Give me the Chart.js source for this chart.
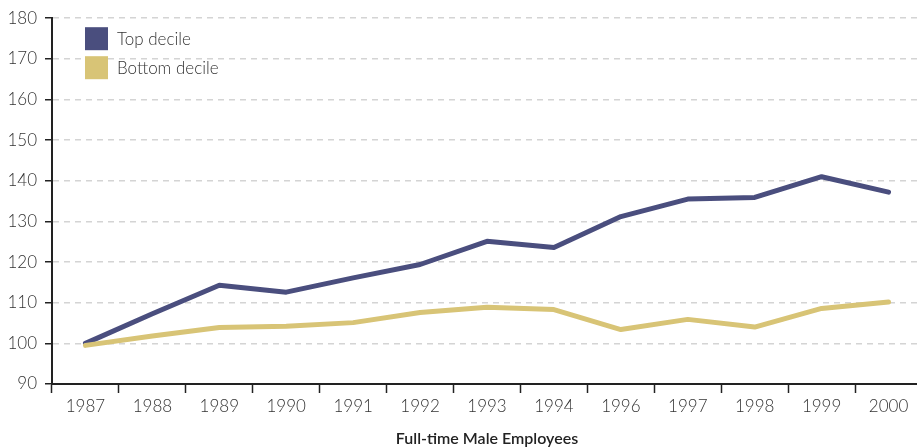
<!DOCTYPE html>
<html lang="en">
<head>
    <meta charset="UTF-8">
    <title>Full-time Male Employees</title>
    <script src="https://cdn.jsdelivr.net/npm/chart.js"></script>
    <style>
        html, body {
            margin: 0;
            padding: 0;
            background: #fff;
            overflow: hidden;
        }

        .chart-box {
            width: 922px;
            height: 448px;
        }
    </style>
</head>
<body>
    <div class="chart-box">
        <canvas id="myChart"></canvas>
    </div>

    <script>
        // data (index, 1987 = 100)
        const years = ['1987', '1988', '1989', '1990', '1991', '1992', '1993', '1994', '1996', '1997', '1998', '1999', '2000'];
        const topDecile = [100, 107.3, 114.3, 112.6, 116.1, 119.4, 125.1, 123.6, 131.2, 135.5, 135.9, 141.0, 137.2];
        const bottomDecile = [99.5, 101.8, 103.9, 104.2, 105.1, 107.6, 108.9, 108.3, 103.4, 105.9, 104.0, 108.6, 110.2];
        const seriesNames = ['Top decile', 'Bottom decile'];
        const seriesColors = ['#4a4e7e', '#d8c476'];
        const xTitle = 'Full-time Male Employees';

        const FONT = 'Lato, "Open Sans", sans-serif';
        const TEXT = '#333';

        // legend drawn inside the plot, top left
        const insideLegend = {
            id: 'insideLegend',
            afterDraw(chart) {
                const ctx = chart.ctx;
                const area = chart.chartArea;
                ctx.save();
                ctx.font = '300 17px ' + FONT;
                ctx.textBaseline = 'middle';
                chart.data.datasets.forEach(function (ds, i) {
                    const x = area.left + 33;
                    const y = area.top + 9 + i * 29;
                    ctx.fillStyle = ds.borderColor;
                    ctx.fillRect(x, y, 23, 23);
                    ctx.fillStyle = TEXT;
                    ctx.fillText(ds.label, x + 32, y + 12);
                });
                ctx.restore();
            }
        };

        const ctx = document.getElementById('myChart');
        const myChart = new Chart(ctx, {
            type: 'line',
            data: {
                labels: years,
                datasets: [{
                    label: seriesNames[0],
                    data: topDecile,
                    borderColor: seriesColors[0],
                    backgroundColor: seriesColors[0],
                    borderWidth: 5,
                    pointRadius: 0,
                    tension: 0,
                    borderCapStyle: 'round',
                    borderJoinStyle: 'round',
                    order: 1
                }, {
                    label: seriesNames[1],
                    data: bottomDecile,
                    borderColor: seriesColors[1],
                    backgroundColor: seriesColors[1],
                    borderWidth: 5,
                    pointRadius: 0,
                    tension: 0,
                    borderCapStyle: 'round',
                    borderJoinStyle: 'round',
                    order: 0
                }]
            },
            options: {
                responsive: true,
                maintainAspectRatio: false,
                animation: false,
                layout: {
                    padding: { top: 16, left: 0, right: 0, bottom: 0 }
                },
                plugins: {
                    legend: { display: false },
                    tooltip: { enabled: false }
                },
                scales: {
                    x: {
                        offset: true,
                        grid: {
                            offset: true,
                            drawOnChartArea: false,
                            drawTicks: true,
                            tickLength: 9,
                            tickColor: '#222',
                            tickWidth: 1.5
                        },
                        border: { color: '#222', width: 2 },
                        ticks: {
                            color: TEXT,
                            padding: 3,
                            font: { family: FONT, size: 17, weight: '300' },
                            maxRotation: 0,
                            autoSkip: false
                        },
                        title: {
                            display: true,
                            text: xTitle,
                            color: '#222',
                            font: { family: FONT, size: 16, weight: '600' },
                            padding: { top: 6, bottom: 0 }
                        },
                        afterFit: function (s) { s.height = 64; }
                    },
                    y: {
                        min: 90,
                        max: 180,
                        ticks: {
                            stepSize: 10,
                            color: TEXT,
                            padding: 8,
                            font: { family: FONT, size: 17, weight: '300' }
                        },
                        grid: {
                            color: '#d4d4d4',
                            lineWidth: 1.5,
                            tickLength: 7,
                            tickColor: '#222',
                            tickWidth: 1.5,
                            tickBorderDash: []
                        },
                        // in v4 the dash of the grid lines sits on border
                        border: { color: '#222', width: 2, dash: [6, 5] },
                        afterFit: function (s) { s.width = 52; }
                    }
                }
            },
            plugins: [insideLegend]
        });
    </script>
</body>
</html>
